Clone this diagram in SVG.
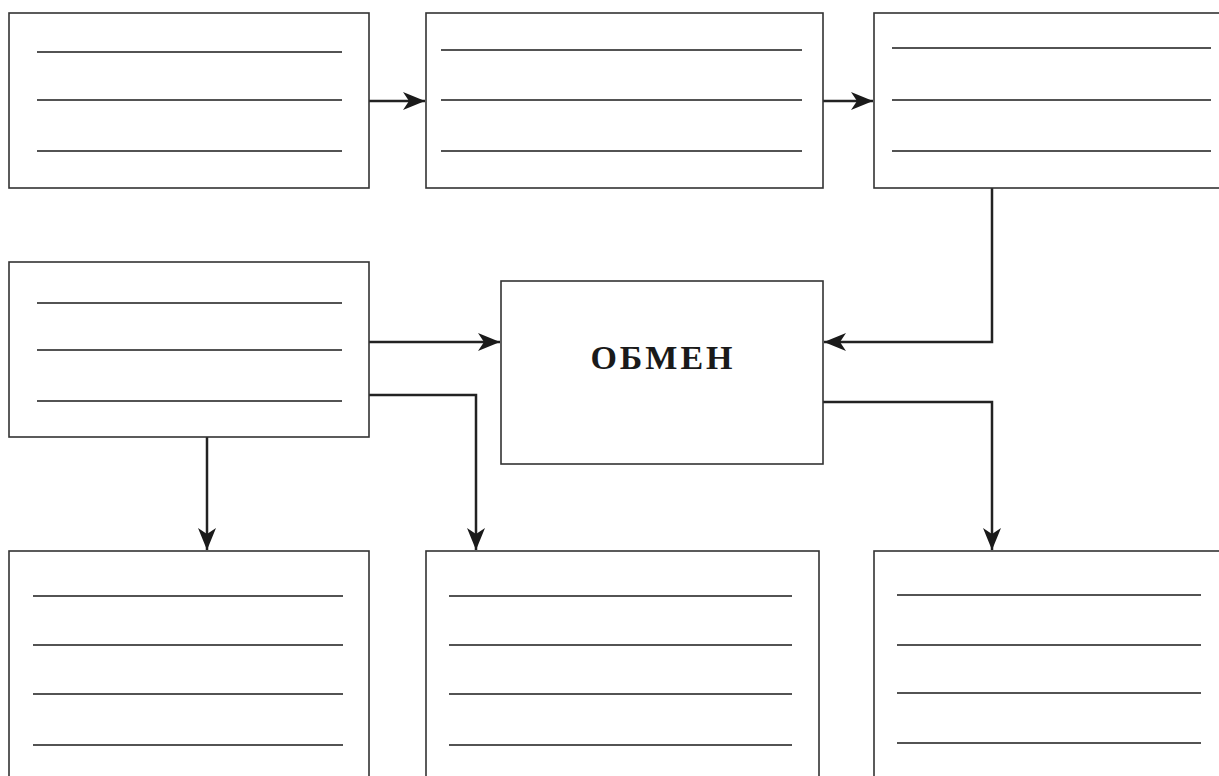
<svg xmlns="http://www.w3.org/2000/svg" width="1219" height="776" viewBox="0 0 1219 776">
<style>
.box{fill:#fff;stroke:#333;stroke-width:1.6}
.ln{stroke:#1a1a1a;stroke-width:1.6}
.con{fill:none;stroke:#222;stroke-width:2.5}
.lbl{font-family:"Liberation Serif",serif;font-size:34px;font-weight:bold;fill:#1a1a1a;letter-spacing:3px}
</style>
<defs>
<marker id="ah" viewBox="0 0 22 18" refX="22" refY="9" markerWidth="22" markerHeight="18" markerUnits="userSpaceOnUse" orient="auto">
<path d="M0,0 L22,9 L0,18 L6,9 Z" fill="#1a1a1a"/>
</marker>
</defs>
<rect width="1219" height="776" fill="#fff"/>
<g id="connectors">
<path class="con" d="M369,101 H425" marker-end="url(#ah)"/>
<path class="con" d="M823,101 H873" marker-end="url(#ah)"/>
<path class="con" d="M992,188 V342 H824" marker-end="url(#ah)"/>
<path class="con" d="M369,342 H500" marker-end="url(#ah)"/>
<path class="con" d="M369,395 H476 V550" marker-end="url(#ah)"/>
<path class="con" d="M207,437 V550" marker-end="url(#ah)"/>
<path class="con" d="M823,402 H992 V550" marker-end="url(#ah)"/>
</g>
<g id="n1"><rect class="box" x="9" y="13" width="360" height="175"/>
<line class="ln" x1="37" y1="52" x2="342" y2="52"/><line class="ln" x1="37" y1="100" x2="342" y2="100"/><line class="ln" x1="37" y1="151" x2="342" y2="151"/></g>
<g id="n2"><rect class="box" x="426" y="13" width="397" height="175"/>
<line class="ln" x1="441" y1="50" x2="802" y2="50"/><line class="ln" x1="441" y1="100" x2="802" y2="100"/><line class="ln" x1="441" y1="151" x2="802" y2="151"/></g>
<g id="n3"><rect class="box" x="874" y="13" width="360" height="175"/>
<line class="ln" x1="892" y1="48" x2="1211" y2="48"/><line class="ln" x1="892" y1="100" x2="1211" y2="100"/><line class="ln" x1="892" y1="151" x2="1211" y2="151"/></g>
<g id="n4"><rect class="box" x="9" y="262" width="360" height="175"/>
<line class="ln" x1="37" y1="303" x2="342" y2="303"/><line class="ln" x1="37" y1="350" x2="342" y2="350"/><line class="ln" x1="37" y1="401" x2="342" y2="401"/></g>
<g id="center"><rect class="box" x="501" y="281" width="322" height="183"/>
<text class="lbl" x="663" y="369" text-anchor="middle">ОБМЕН</text></g>
<g id="n5"><rect class="box" x="9" y="551" width="360" height="240"/>
<line class="ln" x1="33" y1="596" x2="343" y2="596"/><line class="ln" x1="33" y1="645" x2="343" y2="645"/><line class="ln" x1="33" y1="694" x2="343" y2="694"/><line class="ln" x1="33" y1="745" x2="343" y2="745"/></g>
<g id="n6"><rect class="box" x="426" y="551" width="393" height="240"/>
<line class="ln" x1="449" y1="596" x2="792" y2="596"/><line class="ln" x1="449" y1="645" x2="792" y2="645"/><line class="ln" x1="449" y1="694" x2="792" y2="694"/><line class="ln" x1="449" y1="745" x2="792" y2="745"/></g>
<g id="n7"><rect class="box" x="874" y="551" width="360" height="240"/>
<line class="ln" x1="897" y1="595" x2="1201" y2="595"/><line class="ln" x1="897" y1="645" x2="1201" y2="645"/><line class="ln" x1="897" y1="693" x2="1201" y2="693"/><line class="ln" x1="897" y1="743" x2="1201" y2="743"/></g>
</svg>
